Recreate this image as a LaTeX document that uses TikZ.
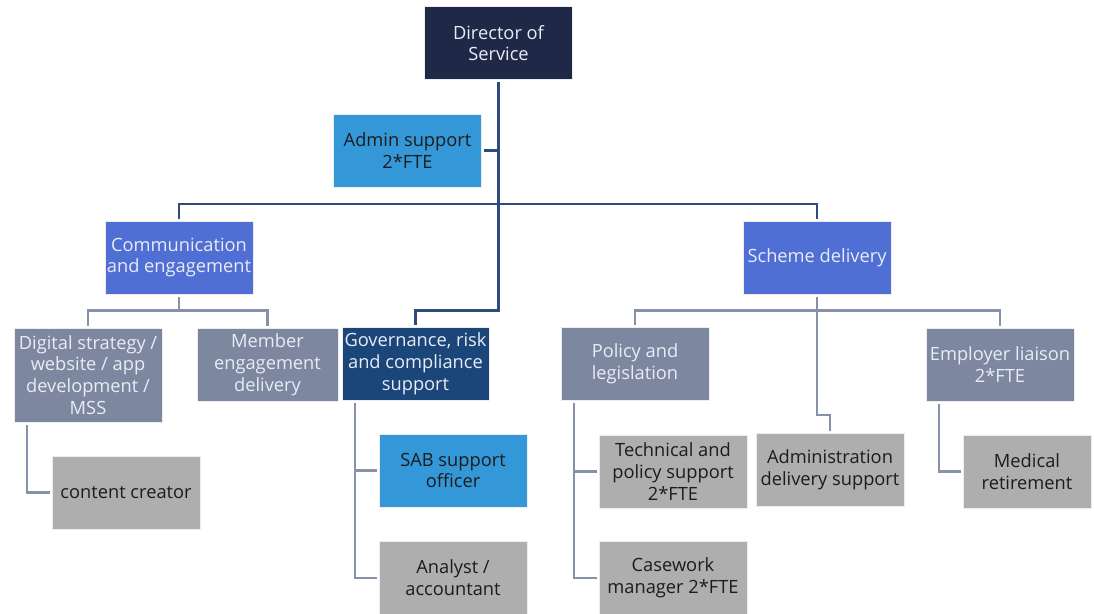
\documentclass[tikz,border=0pt]{standalone}
\usepackage{fontspec}
\setmainfont{Open Sans}
\definecolor{navy}{HTML}{1F2847}
\definecolor{skyblue}{HTML}{3498D8}
\definecolor{royal}{HTML}{4F6FD4}
\definecolor{govblue}{HTML}{1B4679}
\definecolor{slate}{HTML}{7E87A0}
\definecolor{stone}{HTML}{AEAEAE}
\definecolor{linedark}{HTML}{2D4C7D}
\definecolor{lineslate}{HTML}{8891AA}
\definecolor{paper}{HTML}{E9ECF6}
\definecolor{ink}{HTML}{1C1C1C}

\begin{document}
\begin{tikzpicture}[x=0.02cm, y=-0.02cm,
    orgbox/.style={minimum width=2.96cm, minimum height=1.46cm, inner sep=1pt,
        outer sep=0.05cm, align=center, draw=white!85!slate, line width=0.5pt,
        font=\fontsize{10.4pt}{12.4pt}\selectfont},
    lead/.style={orgbox, text=paper},
    role/.style={orgbox, text=ink},
    mainline/.style={line width=1.5pt, draw=linedark},
    subline/.style={line width=1.4pt, draw=lineslate}]
    \useasboundingbox (0,0) rectangle (1094,613);

    % Director and admin
    \node[lead, fill=navy] (dir) at (498.5,43) {Director of\\Service};
    \node[role, fill=skyblue] (admin) at (407.5,150.5) {Admin support\\2*FTE};

    % Heads of service
    \node[lead, fill=royal] (comm) at (179,257.5) {Communication\\and engagement};
    \node[lead, fill=royal] (scheme) at (817,257.5) {Scheme delivery};

    % Teams
    \node[lead, fill=slate, minimum height=1.88cm] (digital) at (88,375)
        {Digital strategy /\\website / app\\development /\\MSS};
    \node[lead, fill=slate, minimum width=2.82cm] (member) at (267.5,364.5)
        {Member\\engagement\\delivery};
    \node[lead, fill=govblue, minimum width=2.94cm] (gov) at (415.5,363.5)
        {Governance, risk\\and compliance\\support};
    \node[lead, fill=slate] (policy) at (635,364) {Policy and\\legislation};
    \node[lead, fill=slate] (employer) at (1000,364.5) {Employer liaison\\2*FTE};

    % Roles
    \node[role, fill=stone] (content) at (126,492.5) {content creator};
    \node[role, fill=skyblue] (sab) at (453,470.5) {SAB support\\officer};
    \node[role, fill=stone] (analyst) at (453,578) {Analyst /\\accountant};
    \node[role, fill=stone] (tech) at (673,471.5) {Technical and\\policy support\\2*FTE};
    \node[role, fill=stone] (casework) at (673,578) {Casework\\manager 2*FTE};
    \node[role, fill=stone] (admindel) at (830,469.5) {Administration\\delivery support};
    \node[role, fill=stone, minimum width=2.56cm] (medical) at (1027,471.5)
        {Medical\\retirement};

    % Levels of the connectors
    \coordinate (lvl1) at (0,204);
    \coordinate (lvl2) at (0,310.5);
    \coordinate (jog) at (0,415);

    % Top-level lines
    \draw[mainline] (dir.south) -- (dir.south |- lvl2) -| (gov.north);
    \draw[mainline] (admin.east) -- (admin.east -| dir.south);
    \draw[mainline] (comm.north) |- (lvl1 -| scheme.north) -- (scheme.north);

    % Team lines
    \draw[subline] (comm.south) -- (comm.south |- lvl2);
    \draw[subline] (digital.north) |- (lvl2 -| member.north) -- (member.north);
    \draw[subline] (policy.north) |- (lvl2 -| employer.north) -- (employer.north);
    \draw[subline] (scheme.south) -- (scheme.south |- jog) -| (admindel.north);

    % Role lines
    \foreach \team/\job in {digital/content, gov/sab, gov/analyst,
        policy/tech, policy/casework, employer/medical}
        \draw[subline] ([xshift=0.31cm]\team.south west) |- (\job.west);
\end{tikzpicture}
\end{document}
